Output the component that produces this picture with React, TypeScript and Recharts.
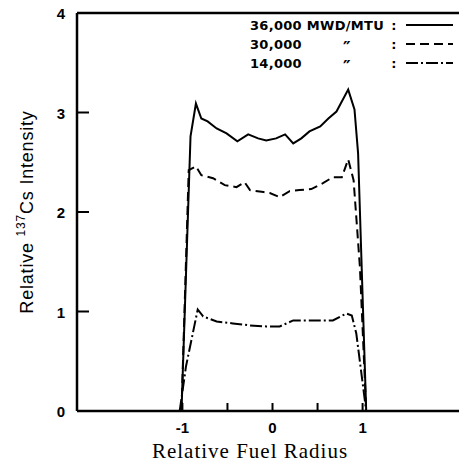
import { LineChart, Line, XAxis, YAxis, ReferenceLine, Customized } from 'recharts'

// 36,000 MWD/MTU
const x36 = [-1.01, -0.91, -0.85, -0.79, -0.72, -0.62, -0.51, -0.39, -0.27, -0.16, -0.07, 0.04, 0.14, 0.23, 0.32, 0.41, 0.53, 0.62, 0.71, 0.84, 0.91, 0.95, 1.04]
const y36 = [0, 2.76, 3.09, 2.94, 2.91, 2.84, 2.79, 2.71, 2.78, 2.74, 2.72, 2.74, 2.78, 2.69, 2.74, 2.81, 2.86, 2.94, 3.01, 3.23, 3.03, 2.59, 0]

// 30,000
const x30 = [-1.01, -0.93, -0.85, -0.79, -0.66, -0.53, -0.4, -0.31, -0.25, -0.1, -0.03, 0.08, 0.19, 0.3, 0.43, 0.56, 0.67, 0.77, 0.84, 0.9, 0.97, 1.04]
const y30 = [0, 2.42, 2.46, 2.37, 2.34, 2.27, 2.25, 2.3, 2.22, 2.2, 2.19, 2.15, 2.21, 2.22, 2.23, 2.29, 2.35, 2.35, 2.53, 2.32, 1.45, 0]

// 14,000
const x14 = [-1.03, -0.96, -0.83, -0.77, -0.62, -0.44, -0.25, -0.07, 0.08, 0.23, 0.38, 0.53, 0.67, 0.82, 0.88, 0.93, 1.04]
const y14 = [0, 0.45, 1.02, 0.95, 0.9, 0.88, 0.86, 0.85, 0.85, 0.91, 0.91, 0.91, 0.91, 0.98, 0.96, 0.78, 0]

const xTicks = [-1, -0.5, 0, 0.5, 1]
const yTicks = [0, 1, 2, 3, 4]

const legendLabels = ['36,000 MWD/MTU', '30,000', '14,000']
const dashes = ['', '9 5', '12 3 2 3']

const toRows = (xs: number[], ys: number[]) => xs.map((x, i) => ({ x, y: ys[i] }))

const tickFont = { fontFamily: 'Liberation Sans, Arial, sans-serif', fontWeight: 700, fontSize: 15, fill: '#000' }

function XTick(props: any) {
  const { x, y, payload } = props
  const v = payload.value
  const label = Math.abs(v) === 0.5 ? '' : v < 0 ? '-' + Math.abs(v) : String(v)
  return (
    <g>
      <line x1={x} x2={x} y1={y} y2={y - 8} stroke="#000" strokeWidth={2} />
      {label && (
        <text x={x} y={y + 22} textAnchor="middle" {...tickFont}>
          {label}
        </text>
      )}
    </g>
  )
}

function YTick(props: any) {
  const { x, y, payload } = props
  return (
    <g>
      <line x1={x} x2={x + 12} y1={y} y2={y} stroke="#000" strokeWidth={2} />
      <text x={x - 12} y={y + 6} textAnchor="end" {...tickFont}>
        {payload.value}
      </text>
    </g>
  )
}

function Annotations() {
  const legendFont = { fontFamily: 'DejaVu Sans, sans-serif', fontWeight: 700, fontSize: 13, letterSpacing: 0.3, fill: '#000' }
  const rowsY = [30, 49, 68]
  return (
    <g>
      <text
        x={33}
        y={212}
        transform="rotate(-90 33 212)"
        textAnchor="middle"
        fontFamily="Liberation Sans, Arial, sans-serif"
        fontSize={18}
        letterSpacing={0.8}
        fill="#000"
      >
        Relative <tspan fontSize={12} dy={-8}>137</tspan>
        <tspan dy={8}>Cs Intensity</tspan>
      </text>
      <text x={250} y={458} textAnchor="middle" fontFamily="Liberation Serif, serif" fontSize={21} letterSpacing={1} fill="#000">
        Relative Fuel Radius
      </text>
      {legendLabels.map((l, i) => (
        <g key={l}>
          <text x={250} y={rowsY[i]} {...legendFont}>
            {l}
          </text>
          {i > 0 && (
            <text x={347} y={rowsY[i] + 5} textAnchor="middle" {...legendFont} fontSize={17}>
              ″
            </text>
          )}
          <text x={394} y={rowsY[i]} textAnchor="middle" {...legendFont}>
            :
          </text>
          <line x1={406} x2={453} y1={rowsY[i] - 5} y2={rowsY[i] - 5} stroke="#000" strokeWidth={2} strokeDasharray={dashes[i] || undefined} />
        </g>
      ))}
    </g>
  )
}

export default function App() {
  return (
    <div style={{ position: 'absolute', left: 0, top: 0, width: 459, height: 464, background: '#fff' }}>
      <LineChart width={459} height={464} margin={{ top: 13, right: 0, bottom: 0, left: 0 }}>
        <XAxis
          type="number"
          dataKey="x"
          domain={[-2.17, 2.07]}
          allowDataOverflow
          ticks={xTicks}
          tick={<XTick />}
          tickLine={false}
          tickSize={0}
          tickMargin={0}
          height={53}
          axisLine={{ stroke: '#000', strokeWidth: 2.5 }}
        />
        <YAxis
          type="number"
          domain={[0, 4]}
          ticks={yTicks}
          tick={<YTick />}
          tickLine={false}
          tickSize={0}
          tickMargin={0}
          width={77}
          axisLine={{ stroke: '#000', strokeWidth: 2.5 }}
        />
        <ReferenceLine y={4} stroke="#000" strokeWidth={2.5} />
        <Line data={toRows(x36, y36)} dataKey="y" stroke="#000" strokeWidth={2} dot={false} isAnimationActive={false} />
        <Line data={toRows(x30, y30)} dataKey="y" stroke="#000" strokeWidth={2} strokeDasharray="9 5" dot={false} isAnimationActive={false} />
        <Line data={toRows(x14, y14)} dataKey="y" stroke="#000" strokeWidth={2} strokeDasharray="12 3 2 3" dot={false} isAnimationActive={false} />
        <Customized component={<Annotations />} />
      </LineChart>
    </div>
  )
}
